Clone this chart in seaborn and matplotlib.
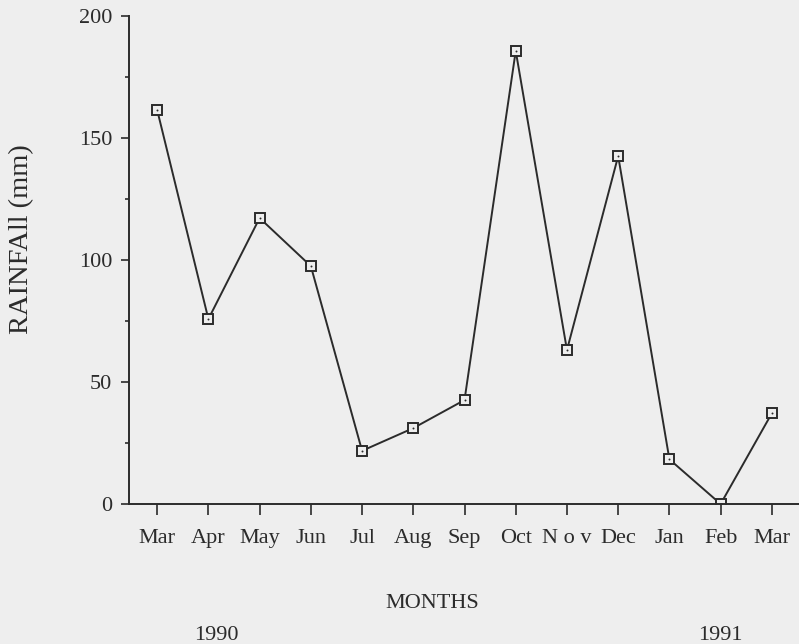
import matplotlib
matplotlib.use("Agg")
import matplotlib.pyplot as plt
import seaborn as sns
import pandas as pd
from matplotlib.ticker import MultipleLocator

months = ["Mar", "Apr", "May", "Jun", "Jul", "Aug", "Sep", "Oct", "N o v", "Dec", "Jan", "Feb", "Mar"]
rainfall = [161.5, 75.8, 117.2, 97.5, 21.8, 31.1, 42.6, 185.7, 63.1, 142.6, 18.3, 0.0, 37.2]
y_ticks = [0, 50, 100, 150, 200]
year_labels = ["1990", "1991"]

df = pd.DataFrame({"idx": range(len(months)), "rain": rainfall})

BG = "#eeeeee"
INK = "#2b2b2b"

sns.set_theme(style="white")
plt.rcParams["font.family"] = ["Liberation Serif", "DejaVu Serif"]
plt.rcParams["text.color"] = INK
plt.rcParams["axes.edgecolor"] = INK
plt.rcParams["xtick.color"] = INK
plt.rcParams["ytick.color"] = INK

fig = plt.figure(figsize=(7.99, 6.44), dpi=100, facecolor=BG)
ax = fig.add_axes([129 / 799, 1 - 504 / 644, 670 / 799, 488 / 644])
ax.set_facecolor(BG)

sns.lineplot(data=df, x="idx", y="rain", ax=ax, color=INK, linewidth=1.4,
             marker="s", markersize=7, markerfacecolor=BG,
             markeredgecolor=INK, markeredgewidth=1.4)
ax.scatter(df["idx"], df["rain"], s=2, color=INK, zorder=5, linewidths=0)

ax.set_xlim(-0.55, 12.53)
ax.set_ylim(0, 200)
ax.set_xticks(range(len(months)))
ax.set_xticklabels(months, fontsize=16)
ax.set_yticks(y_ticks)
ax.set_yticklabels([str(v) for v in y_ticks], fontsize=16)
ax.yaxis.set_minor_locator(MultipleLocator(25))

for s in ["top", "right"]:
    ax.spines[s].set_visible(False)
for s in ["left", "bottom"]:
    ax.spines[s].set_linewidth(1.4)
    ax.spines[s].set_color(INK)

ax.tick_params(axis="x", which="major", direction="out", length=8, width=1.2,
               pad=10, bottom=True)
ax.tick_params(axis="y", which="major", direction="out", length=6, width=1.2,
               pad=6, left=True)
ax.tick_params(axis="y", which="minor", direction="out", length=3, width=1.2,
               left=True)
ax.set_xlabel("")
ax.set_ylabel("")
ax.grid(False)

fig.text(22 / 799, 1 - 239 / 644, "RAINFAll (mm)", rotation=90, ha="center",
         va="center", fontsize=20.5, color=INK)
fig.text(432 / 799, 1 - 604 / 644, "MONTHS", ha="center", va="center",
         fontsize=16, color=INK)
fig.text(216 / 799, 1 - 636 / 644, year_labels[0], ha="center", va="center",
         fontsize=16, color=INK)
fig.text(720 / 799, 1 - 636 / 644, year_labels[1], ha="center", va="center",
         fontsize=16, color=INK)

fig.savefig("out.png", dpi=100, facecolor=BG)
